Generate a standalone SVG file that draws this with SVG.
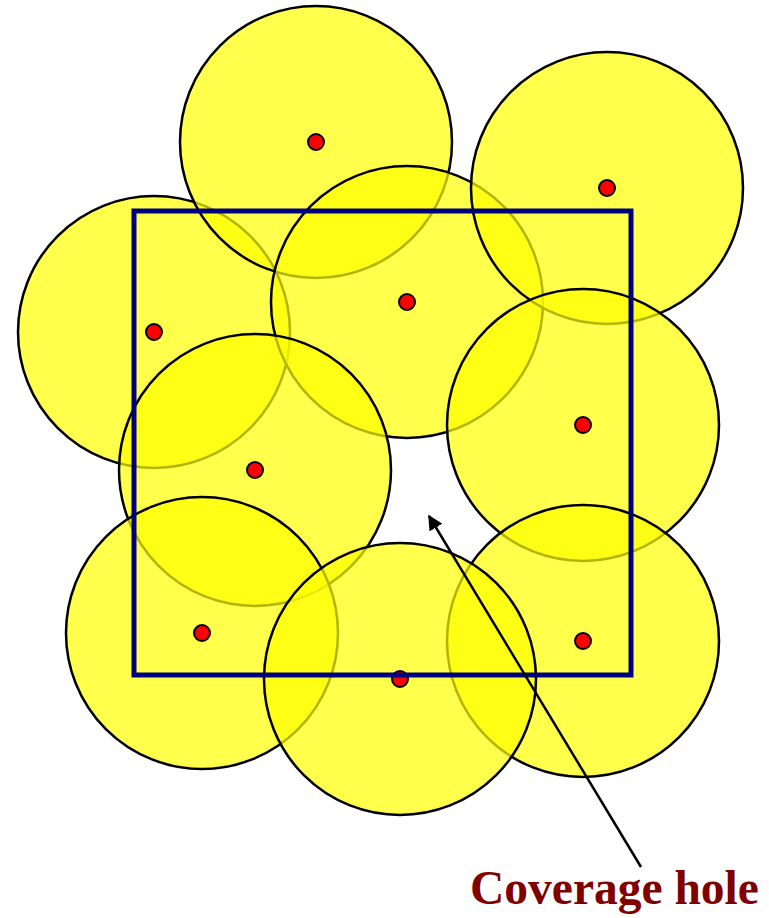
<svg xmlns="http://www.w3.org/2000/svg" width="769" height="918" viewBox="0 0 769 918">
<style>
.cov{fill:#ffff00;fill-opacity:0.7;stroke:#000;stroke-width:2.5}
.dot{fill:#ff0000;stroke:#000;stroke-width:2}
.lbl{font-family:"Liberation Serif","Times New Roman",serif;font-weight:bold;font-size:47.5px;fill:#800000}
</style>
<defs>
<marker id="ah" viewBox="0 0 10 10" refX="9" refY="5" markerWidth="6" markerHeight="6" markerUnits="strokeWidth" orient="auto">
<path d="M0,0 L10,5 L0,10 z" fill="#000"/>
</marker>
</defs>
<rect width="769" height="918" fill="#fff"/>
<g id="sensor3"><circle class="cov" cx="154" cy="332" r="136"/></g>
<g id="sensor1"><circle class="cov" cx="316" cy="142" r="136"/></g>
<g id="sensor4"><circle class="cov" cx="407" cy="302" r="136"/></g>
<g id="sensor2"><circle class="cov" cx="607" cy="188" r="136"/></g>
<g id="sensor5"><circle class="cov" cx="583" cy="425" r="136"/></g>
<g id="sensor6"><circle class="cov" cx="255" cy="470" r="136"/></g>
<g id="sensor7"><circle class="cov" cx="202" cy="633" r="136"/></g>
<g id="sensor9"><circle class="cov" cx="583" cy="641" r="136"/></g>
<g id="sensor8"><circle class="cov" cx="400" cy="679" r="136"/></g>
<g id="dots">
<circle class="dot" cx="316" cy="142" r="8"/>
<circle class="dot" cx="607" cy="188" r="8"/>
<circle class="dot" cx="154" cy="332" r="8"/>
<circle class="dot" cx="407" cy="302" r="8"/>
<circle class="dot" cx="583" cy="425" r="8"/>
<circle class="dot" cx="255" cy="470" r="8"/>
<circle class="dot" cx="202" cy="633" r="8"/>
<circle class="dot" cx="583" cy="641" r="8"/>
<circle class="dot" cx="400" cy="679" r="8"/>
</g>
<g id="area"><rect x="134" y="211" width="497" height="464" fill="none" stroke="#00007f" stroke-width="5"/></g>
<g id="connectors"><line x1="641" y1="867" x2="429" y2="516" stroke="#000" stroke-width="2.5" marker-end="url(#ah)"/></g>
<g id="label"><text class="lbl" x="470" y="904">Coverage hole</text></g>
</svg>
